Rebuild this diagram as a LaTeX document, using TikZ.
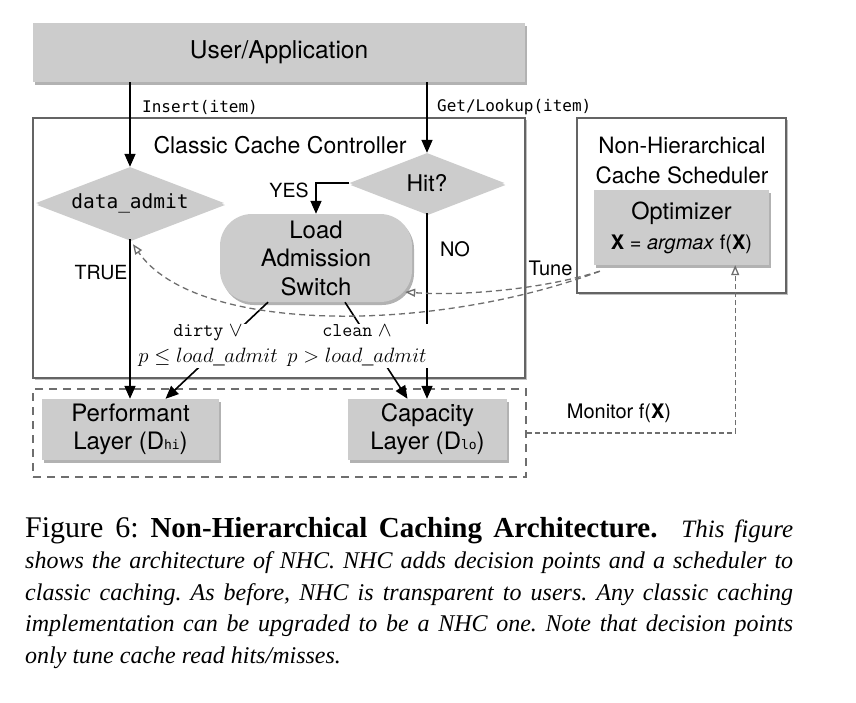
\documentclass[tikz,border=0pt]{standalone}
\usepackage[no-math]{fontspec}
\setmainfont{TeX Gyre Heros}
\newfontfamily\capfont{Liberation Serif}
\newfontfamily\dejamono{DejaVu Sans Mono}
\usetikzlibrary{arrows.meta,shapes.geometric,shadows,calc}
\definecolor{boxgray}{RGB}{204,204,204}
\definecolor{framegray}{RGB}{100,100,100}
\definecolor{dashgray}{RGB}{110,110,110}
\begin{document}
\begin{tikzpicture}[x=1pt,y=-1pt,
  shad/.style={drop shadow={shadow xshift=2pt,shadow yshift=-3pt,fill=black,opacity=0.3}},
  graybox/.style={rectangle,fill=boxgray,shad,inner sep=0pt,align=center,font=\fontsize{24}{28}\selectfont},
  frame/.style={rectangle,draw=framegray,line width=1.5pt,fill=white,inner sep=0pt,drop shadow={shadow xshift=2pt,shadow yshift=-2pt,fill=black,opacity=0.25}},
  decision/.style={diamond,fill=boxgray,inner sep=0pt,aspect=2.6,drop shadow={shadow xshift=1pt,shadow yshift=-2pt,fill=black,opacity=0.2}},
  flow/.style={line width=1.6pt,-{Triangle[length=13pt,width=11pt]}},
  ctrl/.style={draw=dashgray,line width=1.3pt,dash pattern=on 6pt off 4pt,-{Triangle[open,length=10pt,width=8pt]}},
  lbl/.style={font=\fontsize{19.5}{24}\selectfont,inner sep=0pt},
  code/.style={font=\dejamono\fontsize{16}{16}\selectfont,inner sep=0pt},
  title/.style={font=\fontsize{22.5}{30}\selectfont,inner sep=0pt,align=center},
  cond/.style={fill=white,inner sep=1pt,align=center,font=\fontsize{19.5}{26}\selectfont},
]
\useasboundingbox (0,0) rectangle (856,702);
% boxes
\node[graybox,minimum width=492pt,minimum height=59pt,font=\fontsize{24.5}{28}\selectfont] (user) at (279,52.5) {User/Application};
\node[frame,minimum width=492pt,minimum height=260pt] (ccc) at (279,248) {};
\node[title,font=\fontsize{23}{30}\selectfont] (ccct) at (280,145) {Classic Cache Controller};
\node[frame,minimum width=209pt,minimum height=175pt] (nhc) at (681.5,205.5) {};
\node[title] (nhct) at (682,160) {Non-Hierarchical\\Cache Scheduler};
\node[graybox,minimum width=175pt,minimum height=75pt,font=\fontsize{23.5}{30}\selectfont] (opt) at (681.5,227.5) {Optimizer\\{\fontsize{20}{30}\selectfont\textbf{X} = \textit{argmax} f(\textbf{X})}};
\node[decision,minimum width=188pt,minimum height=72pt,font=\dejamono\fontsize{19.5}{20}\selectfont] (da) at (130,203) {data\_admit};
\node[decision,minimum width=155pt,minimum height=60pt,font=\fontsize{23}{23}\selectfont] (hit) at (427,183) {Hit?};
\node[graybox,rounded corners=32pt,minimum width=192pt,minimum height=88pt,font=\fontsize{24}{28.5}\selectfont] (load) at (316,258) {Load\\Admission\\Switch};
\node[draw=dashgray,line width=1.8pt,dash pattern=on 8pt off 6pt,minimum width=493pt,minimum height=88pt,inner sep=0pt] (layers) at (279.5,433) {};
\node[graybox,minimum width=177pt,minimum height=61pt] (perf) at (130.5,429.5) {Performant\\Layer (D{\dejamono\fontsize{13}{13}\selectfont hi})};
\node[graybox,minimum width=159pt,minimum height=61pt] (capl) at (427.5,429.5) {Capacity\\Layer (D{\dejamono\fontsize{13}{13}\selectfont lo})};
% flow connectors
\draw[flow] (da.north |- user.south) -- (da.north);
\draw[flow] (hit.north |- user.south) -- (hit.north);
\draw[flow] (hit.west) -| (load.north);
\draw[flow] (hit.south) -- (hit.south |- capl.north);
\draw[flow] (da.south) -- (da.south |- perf.north);
\draw[flow] ($(load.south)+(-48,0)$) -- ($(perf.north)+(35,0)$);
\draw[flow] ($(load.south)+(29,0)$) -- ($(capl.north)+(-20,0)$);
% labels
\node[lbl] (yes) at (289,190) {YES};
\node[lbl,font=\fontsize{20}{24}\selectfont] (no) at (455,249) {NO};
\node[lbl] (true) at (101,273) {TRUE};
\node[code,anchor=west] (ins) at (142,107) {Insert(item)};
\node[code,anchor=west] (get) at (437,107) {Get/Lookup(item)};
\node[cond] (dl) at (208,346) {\texttt{dirty} $\vee$\\$p\leq load\_admit$};
\node[cond] (cl) at (357,346) {\texttt{clean} $\wedge$\\$p>load\_admit$};
% control connectors
\coordinate (ts) at ($(opt.south west)+(6,6)$);
\coordinate (mup) at ($(opt.south east)+(-34,0)$);
\draw[ctrl] (ts) .. controls (432,334) and (195,334) .. ($(da.south)+(3,5)$);
\draw[ctrl] (ts) .. controls (540,290) and (460,296) .. ($(load.east)+(-7,34)$);
\node[lbl,font=\fontsize{20}{20}\selectfont] (tune) at (550.5,268) {Tune};
\draw[ctrl,dash pattern=on 5pt off 3pt] (layers.east) -| (mup);
\node[lbl,font=\fontsize{20}{24}\selectfont] (mon) at (619,413) {Monitor f(\textbf{X})};
% caption
\node[anchor=base west,text width=768pt,align=justify,inner sep=0pt,font=\capfont\fontsize{24}{31.5}\selectfont\frenchspacing] (caption) at (25,537) {{\fontsize{30}{31.5}\selectfont Figure 6: \fontsize{29}{31.5}\selectfont\textbf{Non-Hierarchical Caching Architecture.}}\quad{\fontsize{25}{31.5}\selectfont\textit{This figure}}\linebreak \textit{shows the architecture of NHC. NHC adds decision points and a scheduler to\linebreak classic caching. As before, NHC is transparent to users. Any classic caching\linebreak implementation can be upgraded to be a NHC one. Note that decision points\linebreak only tune cache read hits/misses.}};
\end{tikzpicture}
\end{document}
